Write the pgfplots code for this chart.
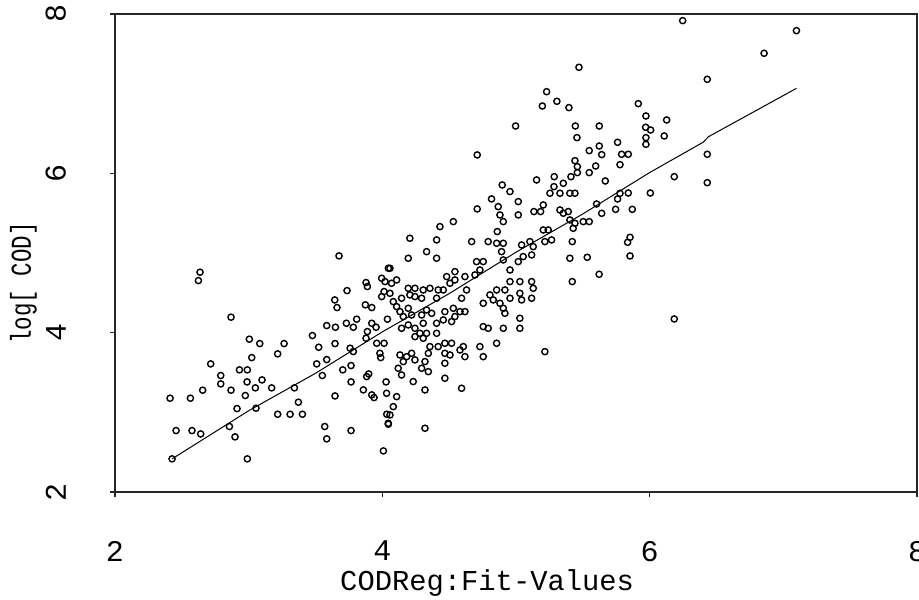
\documentclass[border=0pt]{standalone}
\usepackage{fontspec}
\setmainfont{Liberation Mono}
\usepackage{pgfplots}
\usepackage{pgfplotstable}
\pgfplotsset{compat=1.18}

\pgfplotstableread{
x y
3.676 4.964
2.636 4.759
2.624 4.654
2.868 4.194
3.005 3.918
3.083 3.863
3.265 3.863
3.217 3.734
3.023 3.687
2.716 3.608
2.931 3.533
2.990 3.533
2.791 3.462
2.791 3.357
2.988 3.382
3.100 3.407
3.050 3.307
2.868 3.278
2.656 3.278
3.172 3.307
3.342 3.307
2.412 3.177
2.564 3.177
2.975 3.211
2.913 3.047
3.372 3.127
3.217 2.976
3.310 2.976
3.402 2.976
2.457 2.771
2.576 2.771
2.641 2.729
2.856 2.822
2.898 2.692
2.427 2.416
2.990 2.416
3.477 3.964
3.524 3.817
3.584 4.089
3.649 4.068
3.646 3.863
3.509 3.608
3.584 3.662
3.551 3.462
3.646 3.206
3.569 2.822
3.584 2.667
3.766 2.771
4.008 2.516
3.644 4.411
3.661 4.315
3.736 4.528
3.731 4.118
3.783 4.068
3.808 4.169
3.878 4.629
3.888 4.579
3.995 4.683
4.020 4.641
4.013 4.516
3.995 4.453
3.873 4.349
3.921 4.315
3.921 4.118
3.953 4.068
3.888 4.014
3.878 3.930
3.759 3.805
3.783 3.763
3.766 3.587
3.704 3.533
3.766 3.382
3.858 3.282
3.883 3.449
3.898 3.482
3.921 3.219
3.938 3.185
3.958 3.867
4.013 3.867
3.988 3.687
4.028 3.382
4.033 2.976
4.045 2.851
4.045 4.809
4.038 4.169
3.055 3.052
4.032 3.239
3.982 3.741
4.897 5.854
4.955 5.771
5.017 5.645
4.817 5.679
4.867 5.582
4.880 5.478
4.905 5.394
4.860 5.269
4.710 5.553
5.017 5.478
5.134 5.520
5.184 5.520
5.204 5.603
5.154 5.917
5.254 5.750
5.284 5.833
5.329 5.750
5.354 5.875
5.403 5.750
5.441 5.750
5.329 5.540
5.354 5.499
5.391 5.520
5.403 5.415
5.441 5.373
5.428 5.310
5.421 5.143
5.403 4.934
5.421 4.641
5.204 5.289
5.241 5.289
5.216 5.143
5.266 5.164
5.104 5.143
5.129 5.080
5.117 4.976
5.042 5.101
5.054 4.955
5.017 4.892
4.955 4.787
4.905 4.913
4.892 5.017
4.855 5.122
4.905 5.122
4.792 5.143
4.668 5.143
4.705 4.892
4.755 4.892
4.730 4.787
4.693 4.725
4.618 4.704
4.543 4.766
4.481 4.704
4.506 4.620
4.543 4.662
4.456 4.536
4.418 4.536
4.356 4.557
4.306 4.536
4.294 4.432
4.244 4.453
4.206 4.474
4.194 4.306
4.144 4.432
4.082 4.390
4.057 4.494
4.069 4.620
4.107 4.662
4.144 4.055
4.219 4.222
4.194 4.097
4.244 4.055
4.244 3.950
4.281 3.992
4.306 3.930
4.331 3.992
4.356 3.825
4.344 3.741
4.319 3.637
4.294 3.553
4.344 3.511
4.244 3.658
4.219 3.741
4.182 3.699
4.157 3.637
4.119 3.553
4.144 3.469
4.231 3.386
4.319 3.281
4.468 3.428
4.593 3.302
4.107 3.197
4.082 3.072
4.057 2.967
4.044 2.863
4.319 2.800
4.406 3.992
4.418 3.825
4.468 3.867
4.518 3.867
4.468 3.741
4.468 3.616
4.506 3.720
4.581 3.783
4.606 3.825
4.618 3.699
4.730 3.825
4.755 3.699
4.855 3.867
4.905 4.055
5.029 4.055
5.029 4.181
5.216 3.762
4.792 4.055
4.755 4.076
4.917 4.243
4.905 4.306
4.880 4.369
4.955 4.432
4.917 4.536
4.855 4.536
4.805 4.474
4.755 4.369
4.830 4.411
5.029 4.494
5.042 4.411
5.117 4.432
5.117 4.641
5.129 4.557
5.029 4.641
4.955 4.641
4.593 4.432
4.531 4.306
4.468 4.264
4.543 4.202
4.518 4.139
4.456 4.160
4.406 4.118
4.369 4.243
4.331 4.285
4.294 4.222
4.306 4.118
4.157 4.202
4.132 4.264
4.107 4.327
4.194 4.557
4.244 4.557
4.406 4.432
4.630 4.536
4.194 4.934
4.206 5.185
4.057 4.808
4.406 5.164
4.431 5.331
4.531 5.394
4.331 5.017
4.406 4.934
4.132 3.720
4.581 4.264
4.618 4.264
6.247 7.917
5.471 7.331
6.431 7.180
5.229 7.025
5.197 6.845
5.306 6.904
5.396 6.825
4.997 6.594
5.915 6.875
5.972 6.720
6.127 6.670
5.970 6.578
6.007 6.544
6.109 6.469
5.972 6.448
5.972 6.364
5.444 6.594
5.623 6.594
5.456 6.448
5.548 6.285
5.623 6.343
5.641 6.235
5.760 6.389
5.790 6.239
5.840 6.239
5.778 6.109
5.441 6.159
5.459 6.084
5.459 6.009
5.411 5.958
5.548 6.009
5.596 6.092
5.668 5.904
6.184 5.958
6.431 6.239
6.431 5.883
6.005 5.753
5.840 5.753
5.760 5.678
5.778 5.749
5.745 5.548
5.870 5.548
5.641 5.498
5.603 5.615
5.503 5.394
5.548 5.394
5.853 5.197
5.835 5.134
5.853 4.963
5.533 4.946
5.286 5.958
5.622 4.733
6.184 4.172
4.710 6.231
7.098 7.791
6.856 7.507
}\pts

\pgfplotstableread{
x y
2.427 2.416
3.000 3.020
3.500 3.490
4.000 4.010
4.500 4.490
5.000 5.010
5.500 5.490
6.000 6.010
6.400 6.390
6.440 6.460
6.820 6.810
7.098 7.067
}\fitline

\begin{document}
\begin{tikzpicture}
\begin{axis}[
  at={(0,0)}, anchor=south west,
  scale only axis, width=802bp, height=478bp,
  xmin=2, xmax=8, ymin=2, ymax=8,
  xtick={2,4,6,8}, ytick={2,4,6,8},
  minor tick num=0,
  tick align=outside, tick pos=left,
  major tick length=5bp,
  axis line style={line width=1.3bp, black!85},
  every tick/.style={line width=1.3bp, black!85},
  /pgf/number format/assume math mode=true,
  ticklabel style={font=\fontsize{30bp}{32bp}\selectfont, inner sep=0pt},
  xticklabel style={anchor=north, yshift=-44bp},
  yticklabel style={xshift=-44bp, rotate=90, anchor=south},
  xlabel={CODReg:Fit-Values},
  ylabel={\scalebox{0.78}[1]{log[ COD]}},
  every axis x label/.style={at={(axis description cs:0.464,0)}, anchor=north, inner sep=0pt, yshift=-77bp, font=\fontsize{28.8bp}{32bp}\selectfont},
  every axis y label/.style={at={(axis description cs:0,0.437)}, xshift=-78bp, rotate=90, anchor=south, inner sep=0pt, font=\fontsize{28.8bp}{32bp}\selectfont},
  clip=false,
]
\addplot[only marks, mark=o, mark size=3.1bp, mark options={line width=1.4bp, black}] table[x=x, y=y] {\pts};
\addplot[black, line width=1bp] table[x=x, y=y] {\fitline};
\end{axis}
\pgfresetboundingbox
\path[use as bounding box] (-115bp,-108bp) rectangle (804bp,492bp);
\end{tikzpicture}
\end{document}
